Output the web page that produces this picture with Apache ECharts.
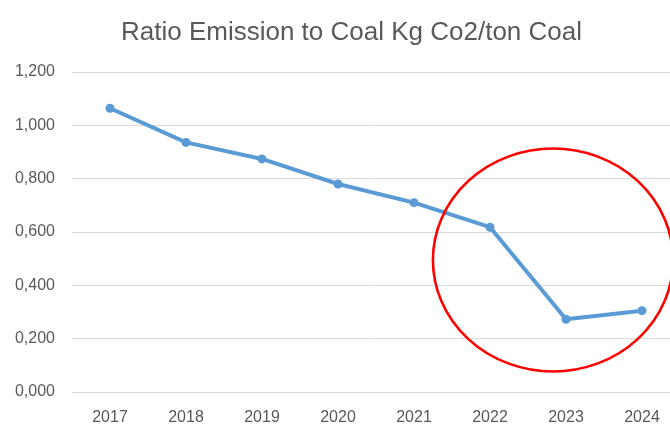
<!DOCTYPE html>
<html>
<head>
<meta charset="utf-8">
<script src="https://cdn.jsdelivr.net/npm/echarts@6/dist/echarts.min.js"></script>
<style>
html,body{margin:0;padding:0;background:#fff;}
#main{width:670px;height:424px;}
</style>
</head>
<body>
<div id="main"></div>
<script>
const title = 'Ratio Emission to Coal Kg Co2/ton Coal';
const years = ['2017','2018','2019','2020','2021','2022','2023','2024'];
const ratio = [1.064, 0.936, 0.874, 0.780, 0.710, 0.618, 0.273, 0.305];
const yTicks = { min: 0, max: 1.2, interval: 0.2 };

const chart = echarts.init(document.getElementById('main'), null, {renderer:'canvas'});
chart.setOption({
  animation: false,
  backgroundColor: '#ffffff',
  title: {
    text: title,
    left: 116,
    top: 15,
    textStyle: { fontFamily: 'Liberation Sans', fontSize: 26, fontWeight: 'normal', color: '#595959' }
  },
  grid: { left: 72, width: 608, top: 72, bottom: 32, containLabel: false, outerBoundsMode: 'none' },
  xAxis: {
    type: 'category',
    data: years,
    boundaryGap: true,
    axisLine: { show: true, lineStyle: { color: '#D9D9D9', width: 1 } },
    axisTick: { show: false },
    axisLabel: { color: '#595959', fontFamily: 'Liberation Sans', fontSize: 16, margin: 18 }
  },
  yAxis: {
    type: 'value',
    min: yTicks.min, max: yTicks.max, interval: yTicks.interval,
    axisLine: { show: false },
    axisTick: { show: false },
    splitLine: { show: true, lineStyle: { color: '#D9D9D9', width: 1 } },
    axisLabel: {
      color: '#595959', fontFamily: 'Liberation Sans', fontSize: 16, margin: 17,
      formatter: v => v.toFixed(3).replace('.', ',')
    }
  },
  series: [{
    type: 'line',
    data: ratio,
    symbol: 'circle',
    symbolSize: 9,
    lineStyle: { color: '#5B9BD5', width: 4 },
    itemStyle: { color: '#5B9BD5' }
  }],
  graphic: [{
    type: 'circle',
    x: 553, y: 260,
    scaleX: 1.077, scaleY: 1,
    shape: { cx: 0, cy: 0, r: 111.5 },
    style: { fill: 'none', stroke: '#FF0000', lineWidth: 2.4 },
    z: 100
  }]
});
</script>
</body>
</html>
